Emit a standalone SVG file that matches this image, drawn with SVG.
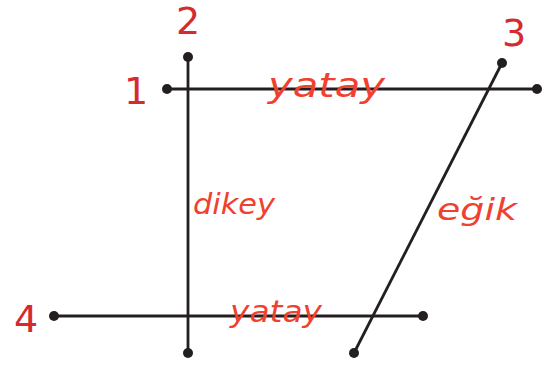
<svg xmlns="http://www.w3.org/2000/svg" width="555" height="367" viewBox="0 0 555 367">
<style>
.ln{stroke:#231f20;stroke-width:2.8;fill:none}
.dot{fill:#231f20}
.num{fill:#d42a30;font-family:"DejaVu Sans",sans-serif;font-size:38px}
.hw{fill:#f0402f;font-family:"DejaVu Sans",sans-serif;font-style:italic}
</style>
<rect width="555" height="367" fill="#ffffff"/>
<g id="connectors">
<line class="ln" x1="167" y1="89" x2="537" y2="89"/>
<line class="ln" x1="188" y1="57" x2="188" y2="353"/>
<line class="ln" x1="502" y1="63" x2="354" y2="353"/>
<line class="ln" x1="54" y1="316" x2="423" y2="316"/>
</g>
<g id="line1">
<circle class="dot" cx="167" cy="89" r="5"/>
<circle class="dot" cx="537" cy="89" r="5"/>
<text class="num" x="136" y="104" text-anchor="middle">1</text>
<text class="hw" x="268" y="97" style="font-size:34px" textLength="117" lengthAdjust="spacingAndGlyphs">yatay</text>
</g>
<g id="line2">
<circle class="dot" cx="188" cy="57" r="5"/>
<circle class="dot" cx="188" cy="353" r="5"/>
<text class="num" x="188" y="34" text-anchor="middle">2</text>
<text class="hw" x="193" y="214" style="font-size:28px" textLength="82" lengthAdjust="spacingAndGlyphs">dikey</text>
</g>
<g id="line3">
<circle class="dot" cx="502" cy="63" r="5"/>
<circle class="dot" cx="354" cy="353" r="5"/>
<text class="num" x="514" y="46" text-anchor="middle">3</text>
<text class="hw" x="437" y="220" style="font-size:30px" textLength="80" lengthAdjust="spacingAndGlyphs">eğik</text>
</g>
<g id="line4">
<circle class="dot" cx="54" cy="316" r="5"/>
<circle class="dot" cx="423" cy="316" r="5"/>
<text class="num" x="26" y="332" text-anchor="middle">4</text>
<text class="hw" x="230" y="322" style="font-size:30px" textLength="92" lengthAdjust="spacingAndGlyphs">yatay</text>
</g>
</svg>
